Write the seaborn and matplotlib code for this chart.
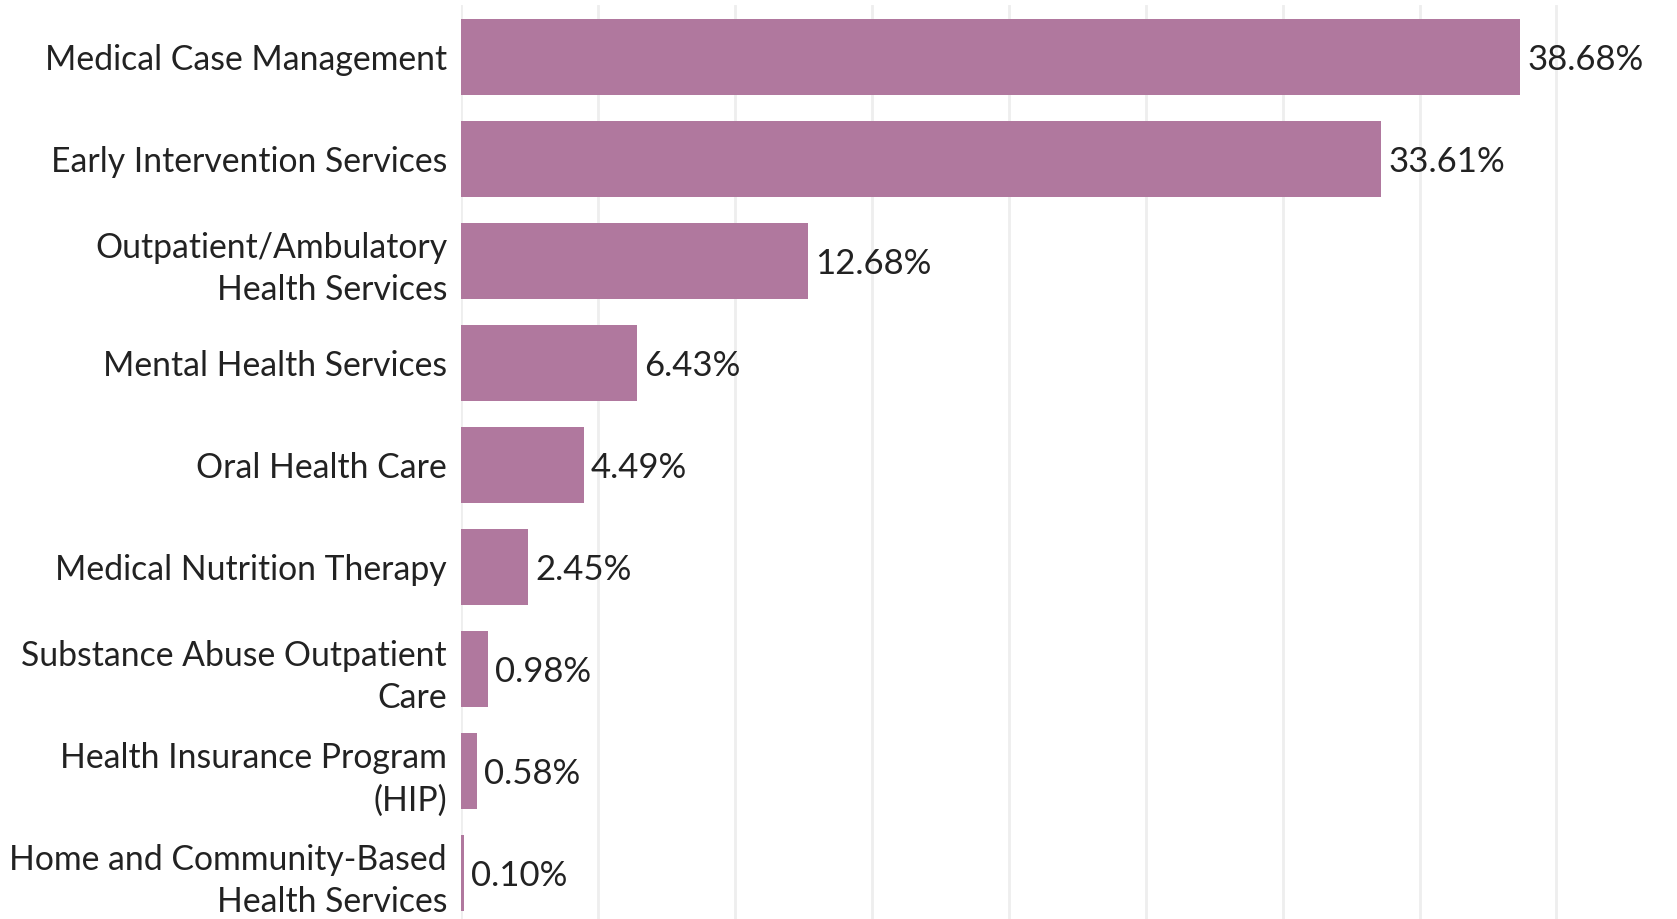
import matplotlib
matplotlib.use("Agg")
import matplotlib.pyplot as plt
import seaborn as sns
import pandas as pd

services = [
    "Medical Case Management",
    "Early Intervention Services",
    "Outpatient/Ambulatory\nHealth Services",
    "Mental Health Services",
    "Oral Health Care",
    "Medical Nutrition Therapy",
    "Substance Abuse Outpatient\nCare",
    "Health Insurance Program\n(HIP)",
    "Home and Community-Based\nHealth Services",
]
shares = [38.68, 33.61, 12.68, 6.43, 4.49, 2.45, 0.98, 0.58, 0.10]

BAR_COLOR = "#b0789e"
TEXT_COLOR = "#222222"
FONT = "Lato"

sns.set_theme(style="white")
plt.rcParams["font.family"] = [FONT, "DejaVu Sans"]

df = pd.DataFrame({"service": services, "share": shares})

fig = plt.figure(figsize=(16.77, 9.19), dpi=100)
ax = fig.add_axes([461 / 1677, 0.0, 1 - 461 / 1677, 1 - 5 / 919])

sns.barplot(data=df, y="service", x="share", orient="h", color=BAR_COLOR,
            saturation=1, width=0.74, linewidth=0, ax=ax)

ax.set_xlim(0, 44.4)
ax.set_ylim(8.45, -0.51)
ax.set_xticks([0, 5, 10, 15, 20, 25, 30, 35, 40])
ax.xaxis.grid(True, color="#eeeeee", linewidth=2)
ax.set_axisbelow(True)
ax.tick_params(axis="x", bottom=False, labelbottom=False)
ax.tick_params(axis="y", left=False, pad=4, labelsize=24.3, labelcolor=TEXT_COLOR)
for lab in ax.get_yticklabels():
    lab.set_linespacing(1.4)
    lab.set_horizontalalignment("right")
ax.set_xlabel("")
ax.set_ylabel("")
for s in ax.spines.values():
    s.set_visible(False)

for i, v in enumerate(shares):
    ax.annotate(f"{v:.2f}%", xy=(v, i), xytext=(5, 0), textcoords="offset points",
                ha="left", va="center_baseline", fontsize=25, color=TEXT_COLOR)

fig.savefig("out.png", dpi=100, facecolor="white")
